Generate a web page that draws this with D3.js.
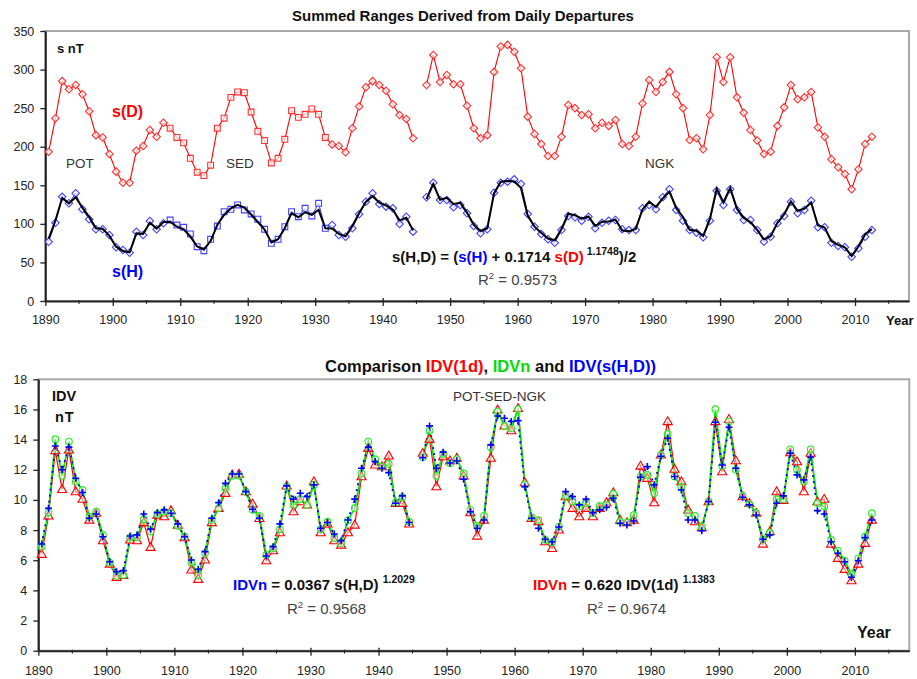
<!DOCTYPE html>
<html>
<head>
<meta charset="utf-8">
<script src="https://cdn.jsdelivr.net/npm/d3@7"></script>
<style>
  body { margin: 0; background: #fff; }
  svg { font-family: "Liberation Sans", Arial, sans-serif; }
</style>
</head>
<body>
<div id="chart"></div>
<script>
// two stacked panels: summed ranges (top) and IDV comparison (bottom)
const W = 917, H = 679;

// years 1890..2012, 1945 is missing (null in every series)
const years = d3.range(1890, 2013);
const decades = d3.range(1890, 2011, 10);
const minorYears = d3.range(1895, 2016, 10);
const sedFirst = 1908, sedLast = 1931;   // square markers in this span

// top panel values, nT
const sD = [193.6,236.8,285,274.4,280,268,246,215,212,190.6,
  167.7,153.4,153.4,194.9,201,221.7,213,231,224,212,
  205,185,167,162.5,176,224,237,264,271,270,
  245,220,208,179,185,209.6,246.7,238,242,249,
  242,212,203,201,192.7,224,252,277,285,280,
  272.6,255,241,236,211,null,280,319,284,293,
  281,281,253,224,211,215,297,330,332,323,
  301.6,239,216.5,203.5,188,188,213,254,250,241,
  242,224,231,227,234.6,203.5,201,213,256,286.5,
  271,284,297,268,250,208.7,211,196.6,241,316,
  284,316,264,244,221.7,208,190.6,193.6,227,251,
  280,261.5,264,271,225,213,183.7,173.3,164.6,144.8,
  170.7,203.5,213];

const sH = [76.9,101.5,135,126.6,139.6,118.9,106,93,93,85.6,
  69.6,66,62.6,89.9,85.6,103.7,93,100.7,105,98.5,
  95.5,86.9,70.4,65.2,80,97.2,115.8,118.9,124.5,118,
  112.8,106,93,74.8,80,96.3,115.8,109.3,120.2,110.2,
  126.6,94.2,98.5,85.6,83.4,94.2,112.4,128.7,139.6,125.7,
  122.3,120.2,99.8,109.3,89.9,null,134.4,153.4,131,131,
  121.4,124.5,113.7,97.2,87.7,93,140.4,153.4,154.7,157.7,
  151.7,112.8,96.3,86.9,80,75.6,92,110.2,108.5,104,
  109.3,94.2,101.5,104,105,93,92,92,120.2,124.5,
  118.9,134.4,144.8,118,104,92,88.6,82.6,104,143,
  124.5,144.8,118,105,105,92,76.9,83.4,100.7,110.2,
  128.7,113.7,118,130,95.5,95.5,75.6,71.3,69.6,57.4,
  68.3,83.4,92];

const sHD = [80.8,104.3,133.6,126.6,134.6,121.1,109,94.4,93.6,84.4,
  70.4,64.9,63.2,87.6,87,101.5,93.9,102.4,102.7,96.3,
  93,83.5,70.6,66.8,77.7,98.8,111.5,120.1,124.7,121.2,
  112.1,102.2,92.6,75.9,80.1,94.6,114,108.5,115,111.8,
  118.2,94.2,94,87,83.8,97.3,113.7,128.4,135.9,127.6,
  124,118.4,104.5,108,91.8,null,132,151.6,131.3,133.7,
  125.8,127.3,114.6,98.8,90.7,94.4,139.4,154.6,155.7,154.8,
  146.3,110.5,96.4,88.4,80.9,78.7,93.4,113.1,111.2,106.7,
  109.6,97.3,102.8,103,105.5,91.4,90.3,93.4,118.7,128.7,
  121.9,133,141.6,120.7,109,92.3,91.2,84.4,106.7,145.7,
  128.1,146.6,119.7,108,102.2,92.1,80,84,101.4,112.4,
  129.2,116.9,119.7,127.5,98.3,95.2,77.6,72.7,69.6,58.3,
  70.6,86.6,93.4];

// bottom panel values, nT
const idv1d = [6.4,8.94,13.27,10.7,13.32,10.55,10.05,8.67,9.12,7.3,
  5.75,4.87,5.0,7.35,7.3,8.5,6.86,9.0,8.89,9.29,
  8.34,7.5,5.36,4.74,6.02,8.5,9.45,10.44,11.66,11.72,
  10.55,9.73,8.78,5.97,6.64,7.83,10.93,9.22,9.89,9.67,
  11.22,7.83,8.41,7.3,7.01,7.83,8.34,11.55,13.43,12.32,
  12.21,12.92,9.78,9.78,8.41,null,13.1,14.03,10.88,12.87,
  12.6,12.77,11.6,9.16,7.61,8.67,12.77,15.97,14.91,14.6,
  16.08,11.15,8.78,8.56,7.23,6.79,8.01,10.22,9.45,8.89,
  9.45,8.89,9.45,9.82,10.49,8.67,8.5,8.67,12.25,11.44,
  9.82,12.99,15.2,12.04,11.22,9.34,8.56,8.16,9.89,15.2,
  11.88,15.35,12.61,10.22,9.78,9.12,7.08,7.9,10.55,9.98,
  13.14,12.54,10.55,13.1,9.89,10.05,7.08,6.13,5.4,4.65,
  5.75,7.13,8.67];

const idvn = [6.9,9.16,14.03,11.6,13.87,11.2,10.66,8.89,9.22,7.68,
  5.84,4.96,5.02,7.52,7.52,8.72,7.9,9.07,9.22,9.12,
  8.27,7.56,5.84,5.0,6.46,8.67,9.45,10.78,11.6,11.6,
  10.55,9.34,8.94,6.35,6.79,8.05,10.88,9.67,10.05,9.67,
  11.0,8.05,8.56,7.46,7.13,8.63,9.45,11.77,13.87,12.7,
  12.21,12.39,9.82,10.18,8.56,null,12.83,14.6,11.6,13.05,
  12.43,12.7,11.77,9.34,8.27,8.94,13.5,15.86,14.91,14.76,
  16.02,11.0,8.85,8.67,7.35,7.17,8.23,10.27,9.89,9.56,
  9.78,9.12,9.6,9.67,10.4,8.56,8.5,9.0,11.55,11.66,
  10.44,12.99,14.38,11.55,10.88,9.12,8.94,8.23,9.89,16.02,
  12.25,15.2,12.0,10.27,9.73,9.12,7.39,7.83,10.05,10.05,
  13.36,12.0,11.22,13.36,9.78,9.56,7.35,6.64,5.97,5.09,
  6.13,7.56,9.12];

const idvsHD = [7.08,9.45,13.58,12.0,13.5,11.44,10.49,8.78,9.07,7.56,
  5.9,5.24,5.31,7.61,7.68,9.07,8.06,9.16,9.34,9.12,
  8.41,7.56,6.02,5.4,6.57,8.78,9.82,11.1,11.72,11.72,
  10.55,9.38,8.78,6.28,6.9,8.41,10.93,10.05,10.44,10.22,
  11.0,8.12,8.5,7.74,7.3,8.67,10.05,12.1,13.5,12.54,
  12.1,11.81,9.78,10.27,8.5,null,12.8,14.91,12.1,13.17,
  12.45,12.6,11.37,9.22,8.12,8.67,13.65,15.57,15.42,15.2,
  15.26,10.88,8.78,8.12,7.39,7.23,8.2,10.55,10.22,9.67,
  10.05,9.16,9.34,9.51,10.11,8.45,8.34,8.6,11.5,12.21,
  11.0,12.9,14.09,11.55,10.66,8.67,8.67,7.96,9.89,15.15,
  12.32,14.82,12.1,10.18,9.67,9.0,7.39,7.68,9.78,10.27,
  13.1,11.66,11.33,12.83,9.29,9.07,7.23,6.46,5.9,4.87,
  5.97,7.5,8.67];

const topTicks = d3.range(0, 351, 50);
const botTicks = d3.range(0, 19, 2);

const RED = "#ff0000", GREEN = "#00ee00", BLUE = "#0000ff";

const svg = d3.select("#chart").append("svg")
  .attr("width", W).attr("height", H);

const topX = d3.scaleLinear().domain([1890, 2018]).range([45.3, 909]);
const topY = d3.scaleLinear().domain([0, 350]).range([301, 31]);
const botX = d3.scaleLinear().domain([1890, 2018]).range([38.3, 909.3]);
const botY = d3.scaleLinear().domain([0, 18]).range([650.7, 379.3]);

// frame + axes for a panel
function drawAxes(x, y, yTicks, labelPad) {
  const [x0, x1] = x.range();
  const [y0, y1] = y.range();
  svg.append("rect")
    .attr("x", x0).attr("y", y1)
    .attr("width", x1 - x0).attr("height", y0 - y1)
    .attr("fill", "none").attr("stroke", "#a8a8a8").attr("stroke-width", 2);

  const ya = svg.append("g").attr("transform", `translate(${x0},0)`)
    .call(d3.axisLeft(y).tickValues(yTicks).tickSize(5).tickSizeOuter(0).tickPadding(6));
  const xa = svg.append("g").attr("transform", `translate(0,${y0})`)
    .call(d3.axisBottom(x).tickValues(decades).tickFormat(d3.format("d"))
      .tickSize(5).tickSizeOuter(0).tickPadding(labelPad));
  xa.selectAll(".tick line").attr("y1", -3).attr("y2", 5);

  // minor ticks at the half decades
  svg.append("g").selectAll("line").data(minorYears).join("line")
    .attr("x1", d => x(d)).attr("x2", d => x(d))
    .attr("y1", y0 - 1).attr("y2", y0 + 3)
    .attr("stroke", "#222");

  [ya, xa].forEach(g => {
    g.attr("font-family", null).attr("font-size", null);
    g.select(".domain").attr("stroke", "#222").attr("stroke-width", 2);
    g.selectAll(".tick line").attr("stroke", "#222").attr("stroke-width", 1.3);
    g.selectAll(".tick text").attr("font-size", "12.5px").attr("fill", "#222");
  });
}

function pts(vals) {
  return years.map((yr, i) => ({ yr: yr, v: vals[i] })).filter(d => d.v != null);
}

function drawLine(x, y, vals, color, width, dash) {
  const line = d3.line()
    .defined(d => d.v != null)
    .x(d => x(d.yr + 0.5)).y(d => y(d.v));
  svg.append("path")
    .datum(years.map((yr, i) => ({ yr: yr, v: vals[i] })))
    .attr("d", line)
    .attr("fill", "none").attr("stroke", color)
    .attr("stroke-width", width)
    .attr("stroke-dasharray", dash || null);
}

function isSed(yr) { return yr >= sedFirst && yr <= sedLast; }

// ---------- top panel ----------
drawAxes(topX, topY, topTicks, 9);

const sym = d3.symbol();
function drawRangeMarkers(vals, color) {
  svg.append("g").selectAll("path").data(pts(vals)).join("path")
    .attr("d", d => isSed(d.yr) ? sym.type(d3.symbolSquare).size(34)() : sym.type(d3.symbolSquare).size(28)())
    .attr("transform", d => `translate(${topX(d.yr + 0.5)},${topY(d.v)}) rotate(${isSed(d.yr) ? 0 : 45})`)
    .attr("fill", "#fff").attr("fill-opacity", 0.7)
    .attr("stroke", color).attr("stroke-width", 1.1);
}

drawLine(topX, topY, sD, RED, 1.1);
drawRangeMarkers(sD, "#ff3030");
drawLine(topX, topY, sH, "#3333ff", 1);
drawRangeMarkers(sH, "#4040ff");
drawLine(topX, topY, sHD, "#000", 2);

// ---------- bottom panel ----------
drawAxes(botX, botY, botTicks, 10);

drawLine(botX, botY, idv1d, RED, 1.2);
drawLine(botX, botY, idvn, GREEN, 1.7);
drawLine(botX, botY, idvsHD, BLUE, 1.8, "2,4");

svg.append("g").selectAll("path").data(pts(idv1d)).join("path")
  .attr("d", d3.symbol().type(d3.symbolTriangle).size(36))
  .attr("transform", d => `translate(${botX(d.yr + 0.5)},${botY(d.v) + 0.5})`)
  .attr("fill", "#fff").attr("fill-opacity", 0.5)
  .attr("stroke", RED).attr("stroke-width", 1.1);

svg.append("g").selectAll("circle").data(pts(idvn)).join("circle")
  .attr("cx", d => botX(d.yr + 0.5)).attr("cy", d => botY(d.v))
  .attr("r", 3.3)
  .attr("fill", "#fff").attr("fill-opacity", 0.4)
  .attr("stroke", "#22ee22").attr("stroke-width", 1.1);

svg.append("g").selectAll("path").data(pts(idvsHD)).join("path")
  .attr("d", d => {
    const cx = botX(d.yr + 0.5), cy = botY(d.v);
    return `M${cx - 3.5},${cy}H${cx + 3.5}M${cx},${cy - 3.5}V${cy + 3.5}`;
  })
  .attr("stroke", BLUE).attr("stroke-width", 1.6);

// ---------- texts ----------
function txt(x, y, size, weight, color, str) {
  return svg.append("text").attr("x", x).attr("y", y)
    .attr("font-size", size + "px").attr("font-weight", weight)
    .attr("fill", color).text(str);
}
function rich(x, y, size, parts) {
  const t = svg.append("text").attr("x", x).attr("y", y)
    .attr("font-size", size + "px").attr("font-weight", "bold");
  parts.forEach(p => {
    const s = t.append("tspan").text(p.t).attr("fill", p.c || "#111");
    if (p.sup) s.attr("font-size", "10.5px").attr("dy", -7);
    if (p.down) s.attr("dy", 7);
  });
  return t;
}
function r2(x, y, val) {
  const t = svg.append("text").attr("x", x).attr("y", y)
    .attr("font-size", "15px").attr("fill", "#444");
  t.append("tspan").text("R");
  t.append("tspan").text("2").attr("font-size", "9.5px").attr("dy", -6);
  t.append("tspan").text(" = " + val).attr("dy", 6);
}

// top panel texts
txt(463, 21, 15, "bold", "#111", "Summed Ranges Derived from Daily Departures").attr("text-anchor", "middle");
txt(57, 53, 13, "bold", "#111", "s nT");
txt(112, 117, 16, "bold", RED, "s(D)");
txt(112, 277, 16, "bold", BLUE, "s(H)");
txt(66, 168, 13.5, "normal", "#333", "POT");
txt(226, 168, 13.5, "normal", "#333", "SED");
txt(645, 168, 13.5, "normal", "#333", "NGK");
txt(886, 325, 13, "bold", "#111", "Year");
rich(392, 262, 15, [
  { t: "s(H,D) = (" }, { t: "s(H)", c: BLUE }, { t: " + 0.1714 " },
  { t: "s(D)", c: RED }, { t: "  1.1748", sup: true }, { t: ")/2", down: true }
]);
r2(478, 285, "0.9573");

// bottom panel texts
rich(325, 372, 16.5, [
  { t: "Comparison " }, { t: "IDV(1d)", c: RED }, { t: ", " },
  { t: "IDVn", c: "#00dd00" }, { t: " and " }, { t: "IDV(s(H,D))", c: BLUE }
]);
txt(52, 401, 14.5, "bold", "#111", "IDV");
txt(55, 422, 14.5, "bold", "#111", "nT").attr("letter-spacing", "1px");
txt(453, 401, 13.5, "normal", "#333", "POT-SED-NGK");
rich(233, 590, 15, [
  { t: "IDVn", c: BLUE }, { t: " = 0.0367 s(H,D) " }, { t: " 1.2029", sup: true }
]);
r2(287, 614, "0.9568");
rich(533, 590, 15, [
  { t: "IDVn", c: RED }, { t: " = 0.620 IDV(1d) " }, { t: " 1.1383", sup: true }
]);
r2(587, 614, "0.9674");
txt(857, 638, 16, "bold", "#111", "Year");
</script>
</body>
</html>
